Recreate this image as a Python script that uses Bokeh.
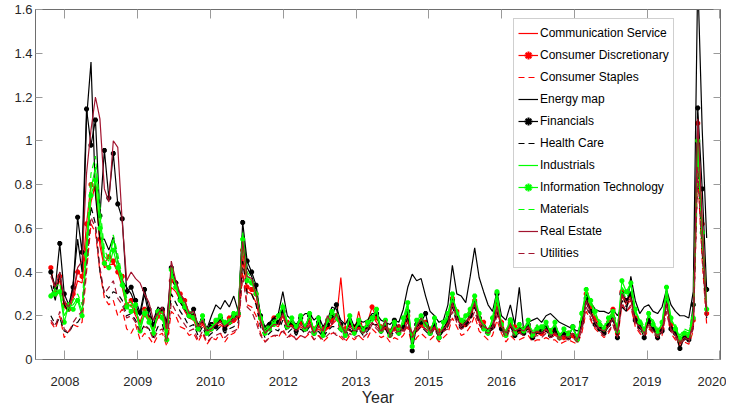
from bokeh.plotting import figure
from bokeh.models import FixedTicker, LinearAxis, Range1d, Legend, LegendItem, Label
from bokeh.embed import file_html
from bokeh.resources import INLINE

x_tick_labels = ["2008", "2009", "2010", "2012", "2013", "2015", "2016", "2017", "2019", "2020"]
y_ticks = [0, 0.2, 0.4, 0.6, 0.8, 1.0, 1.2, 1.4, 1.6]
y_tick_labels = ["0", "0.2", "0.4", "0.6", "0.8", "1", "1.2", "1.4", "1.6"]

comm = [0.40, 0.33, 0.36, 0.24, 0.22, 0.28, 0.36, 0.35, 0.55, 0.72,
        0.80, 0.52, 0.42, 0.43, 0.44, 0.40, 0.33, 0.24, 0.25, 0.20,
        0.16, 0.20, 0.18, 0.14, 0.19, 0.19, 0.11, 0.33, 0.31, 0.27,
        0.22, 0.19, 0.18, 0.13, 0.16, 0.12, 0.13, 0.15, 0.16, 0.14,
        0.16, 0.17, 0.19, 0.46, 0.31, 0.30, 0.26, 0.17, 0.12, 0.14,
        0.16, 0.15, 0.20, 0.14, 0.16, 0.13, 0.15, 0.13, 0.16, 0.12,
        0.14, 0.12, 0.14, 0.16, 0.18, 0.375, 0.15, 0.13, 0.12, 0.22,
        0.13, 0.15, 0.20, 0.17, 0.13, 0.14, 0.12, 0.15, 0.13, 0.15,
        0.18, 0.10, 0.13, 0.15, 0.14, 0.12, 0.14, 0.12, 0.13, 0.16,
        0.25, 0.20, 0.15, 0.15, 0.19, 0.25, 0.17, 0.14, 0.12, 0.14,
        0.22, 0.15, 0.11, 0.15, 0.13, 0.12, 0.13, 0.14, 0.10, 0.12,
        0.11, 0.13, 0.12, 0.11, 0.10, 0.10, 0.11, 0.10, 0.09, 0.16,
        0.28, 0.22, 0.18, 0.15, 0.12, 0.16, 0.20, 0.11, 0.29, 0.25,
        0.27, 0.18, 0.15, 0.12, 0.17, 0.14, 0.12, 0.13, 0.26, 0.15,
        0.12, 0.08, 0.10, 0.09, 0.16, 1.02, 0.55, 0.20]

cons_disc = [0.42, 0.30, 0.38, 0.25, 0.23, 0.30, 0.40, 0.38, 0.62, 0.80,
             0.78, 0.55, 0.44, 0.47, 0.45, 0.40, 0.38, 0.25, 0.27, 0.22,
             0.17, 0.23, 0.19, 0.15, 0.20, 0.22, 0.12, 0.36, 0.35, 0.30,
             0.27, 0.21, 0.20, 0.15, 0.17, 0.14, 0.15, 0.17, 0.18, 0.16,
             0.19, 0.18, 0.20, 0.50, 0.33, 0.32, 0.30, 0.19, 0.14, 0.15,
             0.19, 0.17, 0.22, 0.17, 0.16, 0.15, 0.17, 0.15, 0.18, 0.14,
             0.16, 0.14, 0.15, 0.18, 0.20, 0.15, 0.14, 0.16, 0.15, 0.15,
             0.14, 0.17, 0.24, 0.19, 0.15, 0.15, 0.13, 0.14, 0.15, 0.14,
             0.20, 0.11, 0.14, 0.16, 0.17, 0.14, 0.15, 0.13, 0.14, 0.17,
             0.28, 0.22, 0.17, 0.16, 0.21, 0.27, 0.19, 0.17, 0.13, 0.15,
             0.25, 0.17, 0.12, 0.16, 0.15, 0.13, 0.14, 0.15, 0.11, 0.13,
             0.12, 0.14, 0.13, 0.12, 0.11, 0.10, 0.12, 0.11, 0.10, 0.17,
             0.30, 0.24, 0.19, 0.16, 0.13, 0.17, 0.23, 0.12, 0.31, 0.27,
             0.29, 0.19, 0.16, 0.13, 0.18, 0.15, 0.13, 0.14, 0.28, 0.16,
             0.13, 0.08, 0.11, 0.10, 0.18, 1.08, 0.62, 0.21]

cons_staples = [0.17, 0.14, 0.20, 0.10, 0.13, 0.16, 0.15, 0.17, 0.40, 0.62,
                0.58, 0.40, 0.28, 0.25, 0.27, 0.20, 0.23, 0.14, 0.12, 0.16,
                0.09, 0.12, 0.10, 0.07, 0.11, 0.12, 0.06, 0.22, 0.20, 0.15,
                0.14, 0.11, 0.12, 0.08, 0.12, 0.07, 0.10, 0.09, 0.12, 0.08,
                0.11, 0.12, 0.14, 0.40, 0.25, 0.24, 0.20, 0.12, 0.08, 0.10,
                0.11, 0.10, 0.14, 0.10, 0.11, 0.09, 0.11, 0.10, 0.12, 0.09,
                0.11, 0.08, 0.10, 0.12, 0.12, 0.10, 0.08, 0.11, 0.09, 0.11,
                0.09, 0.10, 0.14, 0.12, 0.10, 0.11, 0.08, 0.10, 0.09, 0.11,
                0.15, 0.06, 0.10, 0.12, 0.10, 0.09, 0.11, 0.08, 0.10, 0.12,
                0.19, 0.15, 0.11, 0.12, 0.15, 0.20, 0.13, 0.11, 0.09, 0.11,
                0.18, 0.12, 0.08, 0.11, 0.09, 0.09, 0.10, 0.11, 0.08, 0.09,
                0.09, 0.10, 0.09, 0.09, 0.07, 0.08, 0.09, 0.08, 0.07, 0.12,
                0.22, 0.18, 0.14, 0.12, 0.10, 0.12, 0.16, 0.09, 0.25, 0.22,
                0.24, 0.15, 0.12, 0.10, 0.14, 0.12, 0.09, 0.11, 0.22, 0.12,
                0.09, 0.06, 0.08, 0.07, 0.13, 0.85, 0.45, 0.16]

energy = [0.34, 0.27, 0.40, 0.25, 0.22, 0.35, 0.55, 0.40, 1.10, 1.36,
          0.75, 0.55, 0.55, 0.50, 0.56, 0.45, 0.36, 0.33, 0.30, 0.25,
          0.20, 0.30, 0.20, 0.18, 0.24, 0.22, 0.16, 0.40, 0.35, 0.26,
          0.23, 0.20, 0.21, 0.16, 0.19, 0.14, 0.20, 0.25, 0.23, 0.27,
          0.24, 0.29, 0.22, 0.58, 0.42, 0.38, 0.32, 0.20, 0.15, 0.17,
          0.19, 0.21, 0.31, 0.20, 0.18, 0.16, 0.19, 0.21, 0.21, 0.18,
          0.20, 0.15, 0.18, 0.24, 0.23, 0.18, 0.16, 0.20, 0.15, 0.18,
          0.17, 0.18, 0.21, 0.21, 0.18, 0.17, 0.16, 0.18, 0.17, 0.23,
          0.33, 0.39, 0.36, 0.37, 0.29, 0.22, 0.20, 0.17, 0.18, 0.25,
          0.43, 0.30, 0.29, 0.26, 0.38, 0.51, 0.375, 0.31, 0.25, 0.22,
          0.31, 0.20, 0.18, 0.25, 0.16, 0.33, 0.13, 0.17, 0.18, 0.19,
          0.17, 0.20, 0.21, 0.19, 0.17, 0.16, 0.15, 0.14, 0.13, 0.15,
          0.30, 0.26, 0.23, 0.22, 0.22, 0.21, 0.23, 0.20, 0.24, 0.22,
          0.38, 0.27, 0.21, 0.24, 0.25, 0.22, 0.21, 0.24, 0.32, 0.25,
          0.22, 0.20, 0.20, 0.19, 0.31, 1.75, 1.05, 0.555]

financials = [0.40, 0.33, 0.53, 0.30, 0.25, 0.33, 0.65, 0.49, 1.145, 0.98,
              1.095, 0.657, 0.956, 0.738, 0.942, 0.711, 0.643, 0.31, 0.33, 0.27,
              0.215, 0.32, 0.23, 0.16, 0.22, 0.23, 0.17, 0.42, 0.35, 0.275,
              0.24, 0.20, 0.23, 0.15, 0.18, 0.14, 0.16, 0.15, 0.19, 0.14,
              0.17, 0.20, 0.21, 0.626, 0.45, 0.40, 0.34, 0.20, 0.14, 0.16,
              0.18, 0.17, 0.22, 0.15, 0.17, 0.13, 0.19, 0.14, 0.20, 0.12,
              0.17, 0.12, 0.16, 0.20, 0.25, 0.16, 0.12, 0.17, 0.13, 0.16,
              0.14, 0.15, 0.19, 0.21, 0.13, 0.16, 0.12, 0.18, 0.13, 0.15,
              0.22, 0.04, 0.16, 0.17, 0.21, 0.12, 0.16, 0.10, 0.14, 0.18,
              0.27, 0.20, 0.15, 0.17, 0.20, 0.26, 0.19, 0.15, 0.13, 0.15,
              0.30, 0.14, 0.12, 0.18, 0.11, 0.14, 0.12, 0.16, 0.10, 0.14,
              0.13, 0.15, 0.11, 0.14, 0.10, 0.12, 0.10, 0.15, 0.10, 0.17,
              0.28, 0.22, 0.16, 0.14, 0.12, 0.16, 0.19, 0.10, 0.30, 0.27,
              0.30, 0.18, 0.15, 0.10, 0.18, 0.14, 0.10, 0.13, 0.27, 0.14,
              0.12, 0.05, 0.10, 0.09, 0.25, 1.15, 0.78, 0.32]

health_care = [0.20, 0.16, 0.19, 0.13, 0.12, 0.16, 0.17, 0.20, 0.45, 0.70,
               0.62, 0.40, 0.30, 0.28, 0.31, 0.30, 0.27, 0.20, 0.21, 0.18,
               0.12, 0.16, 0.14, 0.10, 0.15, 0.16, 0.09, 0.30, 0.26, 0.22,
               0.19, 0.15, 0.16, 0.11, 0.15, 0.10, 0.12, 0.13, 0.15, 0.12,
               0.14, 0.15, 0.17, 0.45, 0.30, 0.30, 0.25, 0.15, 0.10, 0.12,
               0.14, 0.13, 0.18, 0.12, 0.14, 0.11, 0.14, 0.12, 0.15, 0.11,
               0.13, 0.10, 0.13, 0.15, 0.15, 0.13, 0.10, 0.14, 0.11, 0.14,
               0.11, 0.13, 0.16, 0.16, 0.12, 0.14, 0.10, 0.13, 0.11, 0.14,
               0.19, 0.08, 0.13, 0.15, 0.13, 0.11, 0.14, 0.10, 0.13, 0.15,
               0.24, 0.18, 0.14, 0.15, 0.18, 0.24, 0.16, 0.13, 0.11, 0.14,
               0.22, 0.14, 0.10, 0.15, 0.11, 0.12, 0.12, 0.14, 0.10, 0.12,
               0.12, 0.13, 0.11, 0.13, 0.09, 0.11, 0.10, 0.12, 0.08, 0.15,
               0.26, 0.21, 0.17, 0.14, 0.12, 0.15, 0.18, 0.11, 0.27, 0.24,
               0.28, 0.18, 0.15, 0.12, 0.17, 0.14, 0.11, 0.13, 0.25, 0.15,
               0.12, 0.08, 0.10, 0.09, 0.15, 0.90, 0.50, 0.19]

industrials = [0.30, 0.32, 0.30, 0.20, 0.24, 0.25, 0.28, 0.22, 0.52, 0.78,
               0.88, 0.66, 0.47, 0.45, 0.55, 0.45, 0.36, 0.26, 0.24, 0.24,
               0.14, 0.22, 0.18, 0.13, 0.21, 0.20, 0.10, 0.40, 0.34, 0.28,
               0.25, 0.20, 0.20, 0.15, 0.19, 0.13, 0.15, 0.17, 0.19, 0.16,
               0.18, 0.20, 0.22, 0.58, 0.38, 0.36, 0.30, 0.20, 0.13, 0.15,
               0.17, 0.19, 0.25, 0.16, 0.18, 0.14, 0.19, 0.15, 0.20, 0.13,
               0.18, 0.12, 0.17, 0.21, 0.19, 0.15, 0.12, 0.19, 0.13, 0.17,
               0.14, 0.16, 0.18, 0.22, 0.14, 0.17, 0.12, 0.16, 0.13, 0.17,
               0.25, 0.08, 0.17, 0.19, 0.15, 0.13, 0.18, 0.11, 0.16, 0.20,
               0.29, 0.22, 0.17, 0.19, 0.22, 0.28, 0.20, 0.15, 0.13, 0.18,
               0.29, 0.15, 0.12, 0.19, 0.13, 0.15, 0.14, 0.17, 0.12, 0.15,
               0.14, 0.16, 0.13, 0.16, 0.11, 0.13, 0.12, 0.14, 0.10, 0.20,
               0.31, 0.26, 0.20, 0.17, 0.15, 0.18, 0.21, 0.14, 0.33, 0.30,
               0.34, 0.22, 0.18, 0.14, 0.20, 0.17, 0.13, 0.16, 0.31, 0.18,
               0.15, 0.10, 0.13, 0.12, 0.20, 0.98, 0.55, 0.24]

info_tech = [0.29, 0.30, 0.31, 0.17, 0.25, 0.23, 0.27, 0.20, 0.48, 0.75,
             0.82, 0.60, 0.44, 0.42, 0.50, 0.42, 0.34, 0.24, 0.22, 0.25,
             0.13, 0.21, 0.17, 0.12, 0.22, 0.19, 0.09, 0.41, 0.33, 0.27,
             0.24, 0.20, 0.19, 0.14, 0.20, 0.12, 0.14, 0.18, 0.20, 0.17,
             0.17, 0.21, 0.21, 0.55, 0.36, 0.35, 0.30, 0.19, 0.12, 0.14,
             0.16, 0.20, 0.24, 0.15, 0.19, 0.15, 0.20, 0.14, 0.21, 0.12,
             0.19, 0.11, 0.18, 0.22, 0.20, 0.14, 0.11, 0.20, 0.12, 0.18,
             0.13, 0.17, 0.19, 0.23, 0.13, 0.18, 0.11, 0.17, 0.12, 0.19,
             0.26, 0.06, 0.18, 0.20, 0.16, 0.12, 0.19, 0.10, 0.17, 0.21,
             0.30, 0.21, 0.18, 0.20, 0.23, 0.29, 0.21, 0.14, 0.12, 0.19,
             0.31, 0.16, 0.11, 0.18, 0.12, 0.16, 0.13, 0.18, 0.11, 0.14,
             0.15, 0.17, 0.12, 0.17, 0.10, 0.14, 0.11, 0.15, 0.09, 0.21,
             0.32, 0.27, 0.22, 0.16, 0.14, 0.19, 0.22, 0.13, 0.36, 0.31,
             0.35, 0.23, 0.17, 0.13, 0.21, 0.16, 0.12, 0.17, 0.33, 0.19,
             0.14, 0.09, 0.12, 0.11, 0.19, 1.00, 0.58, 0.23]

materials = [0.28, 0.33, 0.35, 0.22, 0.22, 0.27, 0.30, 0.25, 0.55, 0.85,
             0.93, 0.70, 0.50, 0.46, 0.57, 0.48, 0.38, 0.28, 0.26, 0.22,
             0.15, 0.24, 0.20, 0.14, 0.20, 0.22, 0.12, 0.38, 0.36, 0.29,
             0.26, 0.22, 0.21, 0.16, 0.18, 0.14, 0.16, 0.16, 0.20, 0.15,
             0.19, 0.19, 0.23, 0.52, 0.40, 0.37, 0.31, 0.21, 0.14, 0.16,
             0.18, 0.18, 0.26, 0.17, 0.17, 0.15, 0.18, 0.16, 0.19, 0.14,
             0.17, 0.13, 0.16, 0.20, 0.18, 0.16, 0.13, 0.18, 0.14, 0.16,
             0.15, 0.15, 0.17, 0.20, 0.15, 0.16, 0.13, 0.15, 0.14, 0.16,
             0.23, 0.10, 0.16, 0.18, 0.16, 0.14, 0.17, 0.12, 0.15, 0.19,
             0.27, 0.23, 0.16, 0.18, 0.21, 0.27, 0.19, 0.16, 0.14, 0.17,
             0.27, 0.16, 0.13, 0.20, 0.14, 0.14, 0.15, 0.16, 0.13, 0.16,
             0.13, 0.15, 0.14, 0.15, 0.12, 0.12, 0.13, 0.13, 0.11, 0.19,
             0.29, 0.25, 0.19, 0.18, 0.16, 0.17, 0.20, 0.15, 0.31, 0.28,
             0.32, 0.21, 0.19, 0.15, 0.19, 0.18, 0.14, 0.15, 0.29, 0.17,
             0.16, 0.11, 0.14, 0.13, 0.21, 0.95, 0.60, 0.25]

real_estate = [0.38, 0.33, 0.40, 0.27, 0.24, 0.30, 0.42, 0.45, 0.85, 1.05,
               1.20, 1.10, 0.78, 0.72, 1.00, 0.97, 0.63, 0.36, 0.40, 0.37,
               0.35, 0.30, 0.26, 0.18, 0.21, 0.24, 0.14, 0.45, 0.36, 0.30,
               0.27, 0.21, 0.22, 0.15, 0.18, 0.13, 0.14, 0.16, 0.17, 0.15,
               0.17, 0.18, 0.20, 0.54, 0.38, 0.37, 0.30, 0.18, 0.12, 0.14,
               0.16, 0.16, 0.21, 0.15, 0.15, 0.13, 0.16, 0.14, 0.17, 0.12,
               0.15, 0.13, 0.20, 0.16, 0.21, 0.16, 0.12, 0.15, 0.13, 0.14,
               0.12, 0.14, 0.17, 0.15, 0.13, 0.18, 0.11, 0.14, 0.16, 0.13,
               0.17, 0.12, 0.15, 0.19, 0.16, 0.13, 0.15, 0.12, 0.14, 0.16,
               0.26, 0.19, 0.15, 0.17, 0.20, 0.26, 0.18, 0.15, 0.14, 0.15,
               0.24, 0.15, 0.12, 0.16, 0.13, 0.14, 0.13, 0.15, 0.12, 0.13,
               0.12, 0.14, 0.11, 0.12, 0.10, 0.11, 0.10, 0.12, 0.09, 0.15,
               0.27, 0.21, 0.17, 0.14, 0.13, 0.15, 0.19, 0.12, 0.30, 0.26,
               0.28, 0.17, 0.15, 0.12, 0.16, 0.13, 0.11, 0.13, 0.26, 0.14,
               0.11, 0.08, 0.10, 0.09, 0.16, 1.10, 0.62, 0.22]

utilities = [0.18, 0.15, 0.22, 0.14, 0.12, 0.17, 0.20, 0.22, 0.42, 0.65,
             0.60, 0.42, 0.30, 0.33, 0.36, 0.28, 0.25, 0.19, 0.20, 0.17,
             0.13, 0.15, 0.14, 0.09, 0.13, 0.14, 0.08, 0.26, 0.22, 0.19,
             0.16, 0.13, 0.14, 0.09, 0.13, 0.08, 0.10, 0.11, 0.12, 0.10,
             0.12, 0.13, 0.14, 0.38, 0.24, 0.22, 0.17, 0.11, 0.08, 0.10,
             0.11, 0.11, 0.13, 0.10, 0.12, 0.09, 0.11, 0.10, 0.13, 0.09,
             0.11, 0.09, 0.11, 0.13, 0.11, 0.11, 0.09, 0.12, 0.10, 0.11,
             0.10, 0.12, 0.16, 0.14, 0.12, 0.16, 0.10, 0.12, 0.13, 0.12,
             0.16, 0.10, 0.13, 0.16, 0.14, 0.12, 0.14, 0.11, 0.13, 0.14,
             0.22, 0.17, 0.14, 0.15, 0.17, 0.22, 0.16, 0.13, 0.12, 0.13,
             0.20, 0.14, 0.10, 0.14, 0.11, 0.12, 0.11, 0.13, 0.10, 0.11,
             0.10, 0.12, 0.10, 0.11, 0.09, 0.10, 0.09, 0.10, 0.08, 0.13,
             0.24, 0.19, 0.15, 0.13, 0.11, 0.13, 0.16, 0.10, 0.26, 0.22,
             0.25, 0.16, 0.13, 0.11, 0.15, 0.12, 0.10, 0.12, 0.22, 0.13,
             0.10, 0.07, 0.09, 0.08, 0.14, 0.88, 0.48, 0.18]

n = len(comm)
months = list(range(n))

FONT = "Liberation Sans"
AXIS_COLOR = "#6e6e6e"
TICK_COLOR = "#9a9a9a"
TEXT_COLOR = "#262626"

p = figure(width=726, height=410, output_backend="svg", toolbar_location=None,
           x_range=Range1d(-3.44, 150.1), y_range=Range1d(0, 1.6),
           min_border_left=35, min_border_right=6, min_border_top=9, min_border_bottom=51)
p.grid.visible = False
p.outline_line_color = AXIS_COLOR
p.background_fill_color = "white"

# x ticks evenly spaced across the labelled years
first_tick, last_tick = 3.16, 149.95
step = (last_tick - first_tick) / (len(x_tick_labels) - 1)
x_ticks = [round(first_tick + i * step, 3) for i in range(len(x_tick_labels))]

for ax in p.xaxis:
    ax.ticker = FixedTicker(ticks=x_ticks)
    ax.major_label_overrides = {t: l for t, l in zip(x_ticks, x_tick_labels)}
    ax.major_tick_in = 9
    ax.major_tick_out = 0
    ax.minor_tick_line_color = None
    ax.axis_line_color = AXIS_COLOR
    ax.major_tick_line_color = TICK_COLOR
    ax.major_label_text_font = FONT
    ax.major_label_text_font_size = "13px"
    ax.major_label_text_color = TEXT_COLOR
    ax.major_label_standoff = 17
    ax.axis_label = "Year"
    ax.axis_label_text_font = FONT
    ax.axis_label_text_font_size = "16px"
    ax.axis_label_text_font_style = "normal"
    ax.axis_label_text_color = TEXT_COLOR
    ax.axis_label_standoff = 0

for ax in p.yaxis:
    ax.ticker = FixedTicker(ticks=y_ticks)
    ax.major_label_overrides = {t: l for t, l in zip(y_ticks, y_tick_labels)}
    ax.major_tick_in = 7
    ax.major_tick_out = 0
    ax.minor_tick_line_color = None
    ax.axis_line_color = AXIS_COLOR
    ax.major_tick_line_color = TICK_COLOR
    ax.major_label_text_font = FONT
    ax.major_label_text_font_size = "13px"
    ax.major_label_text_color = TEXT_COLOR
    ax.major_label_standoff = 3

top_axis = LinearAxis(ticker=FixedTicker(ticks=x_ticks), major_tick_in=9, major_tick_out=0,
                      minor_tick_line_color=None, major_label_text_color=None,
                      major_label_text_font_size="1px",
                      major_label_standoff=0, axis_line_color=AXIS_COLOR,
                      major_tick_line_color=TICK_COLOR)
right_axis = LinearAxis(ticker=FixedTicker(ticks=y_ticks), major_tick_in=7, major_tick_out=0,
                        minor_tick_line_color=None, major_label_text_color=None,
                        major_label_text_font_size="1px",
                        major_label_standoff=0, axis_line_color=AXIS_COLOR,
                        major_tick_line_color=TICK_COLOR)
p.add_layout(top_axis, "above")
p.add_layout(right_axis, "right")

# y axis title, placed beside the tick labels (screen units relative to the frame)
ylab = Label(x=-19, y=176, x_units="screen", y_units="screen", text="Monthly volatility",
             angle=90, angle_units="deg", text_align="center", text_baseline="alphabetic",
             text_font=FONT, text_font_size="19px", text_color=TEXT_COLOR)
p.add_layout(ylab)

RED = "#ff0000"
BLACK = "#000000"
GREEN = "#00ff00"
MAROON = "#a2142f"
DASH = "6 4"

series = [
    ("Communication Service", comm, RED, "solid", False),
    ("Consumer Discretionary", cons_disc, RED, "solid", True),
    ("Consumer Staples", cons_staples, RED, DASH, False),
    ("Energy map", energy, BLACK, "solid", False),
    ("Financials", financials, BLACK, "solid", True),
    ("Health Care", health_care, BLACK, DASH, False),
    ("Industrials", industrials, GREEN, "solid", False),
    ("Information Technology", info_tech, GREEN, "solid", True),
    ("Materials", materials, GREEN, DASH, False),
    ("Real Estate", real_estate, MAROON, "solid", False),
    ("Utilities", utilities, MAROON, DASH, False),
]

items = []
for label, vals, color, dash, marker in series:
    rs = [p.line(months, vals, line_color=color, line_width=1.2, line_dash=dash)]
    if marker:
        rs.append(p.scatter(months, vals, marker="asterisk", size=5, line_color=color,
                            line_width=2))
    items.append(LegendItem(label=label, renderers=rs))

legend = Legend(items=items, location=(478, 91))
legend.label_text_font = FONT
legend.label_text_font_size = "12px"
legend.label_text_color = "#000000"
legend.glyph_width = 20
legend.glyph_height = 20
legend.label_height = 20
legend.label_standoff = 2
legend.spacing = 2
legend.padding = 4
legend.margin = 0
legend.border_line_color = "#a0a0a0"
legend.border_line_width = 1
legend.background_fill_color = "white"
legend.background_fill_alpha = 1.0
p.add_layout(legend)

open("out.html", "w").write(file_html(p, INLINE))
